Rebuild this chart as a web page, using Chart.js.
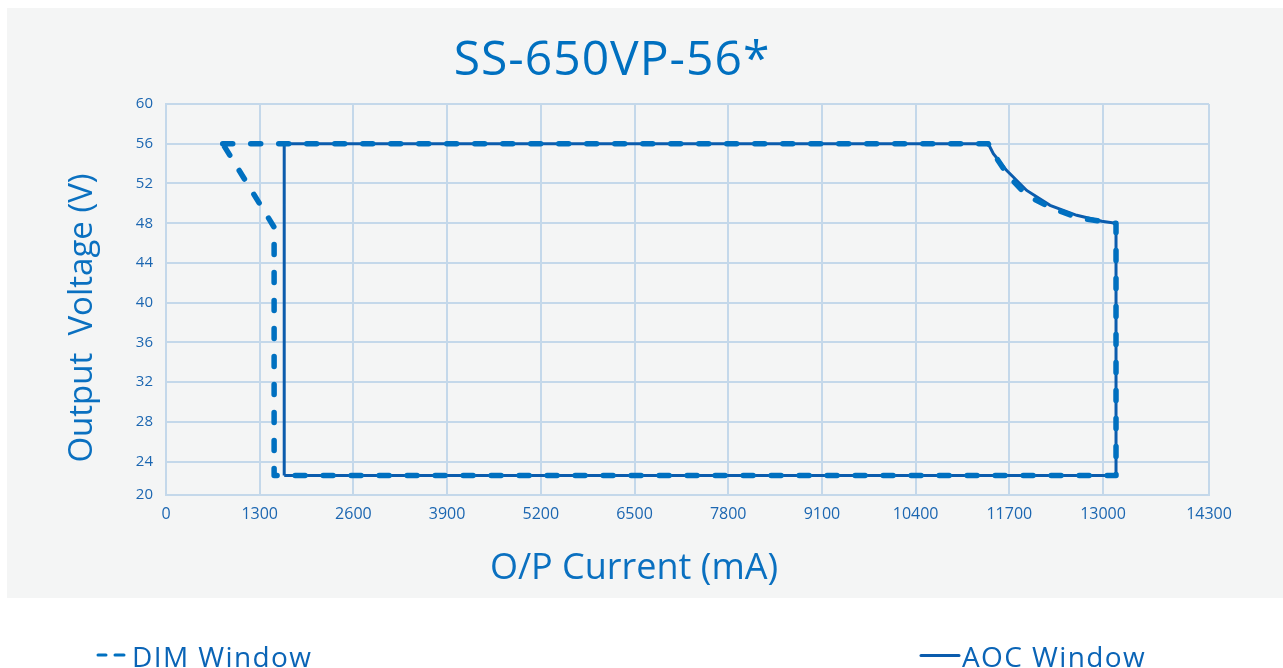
<!DOCTYPE html>
<html>
<head>
<meta charset="utf-8">
<script src="https://cdn.jsdelivr.net/npm/chart.js@4/dist/chart.umd.min.js"></script>
<style>
  html, body { margin: 0; padding: 0; background: #ffffff; }
  #wrap { position: absolute; left: 0; top: 0; width: 1283px; height: 668px; }
</style>
</head>
<body>
<div id="wrap"><canvas id="c" width="1283" height="668"></canvas></div>
<script>
// ---- data ----
const chartTitle = 'SS-650VP-56*';
const xAxisTitle = 'O/P Current (mA)';
const yAxisTitle = 'Output  Voltage (V)';

const xTickLabels = ['0','1300','2600','3900','5200','6500','7800','9100','10400','11700','13000','14300'];
const xTickValues = [0,1300,2600,3900,5200,6500,7800,9100,10400,11700,13000,14470];
const yTickLabels = ['20','24','28','32','36','40','44','48','52','56','60'];
const yTickValues = [20.65,24,28,32,36,40,44,48,52,56,60];

const dimCurrent = [787, 11408, 11474, 11682, 11945, 12292, 12681, 12972, 13180, 13180, 1500, 1500, 787];
const dimVoltage = [56, 56, 55.1, 52.8, 50.8, 49.5, 48.5, 48.2, 48.0, 22.6, 22.6, 47.6, 56];

const aocCurrent = [1640, 1640, 11408, 11478, 11664, 11941, 12265, 12635, 12982, 13180, 13180, 1640];
const aocVoltage = [22.6, 56, 56, 55.0, 53.3, 51.3, 49.8, 48.8, 48.2, 48.0, 22.6, 22.6];

const dimLabel = 'DIM Window';
const aocLabel = 'AOC Window';

// ---- styles ----
const dimColor = '#0070c0';
const aocColor = '#0b5cad';
const gridColor = '#c4d8ea';
const tickColor = '#1b66b1';
const FONT = '"Open Sans", "Noto Sans", sans-serif';

const toPts = (xs, ys) => xs.map((x, i) => ({x: x, y: ys[i]}));

const decor = {
  id: 'decor',
  beforeDraw(chart) {
    const ctx = chart.ctx;
    ctx.save();
    ctx.fillStyle = '#ffffff';
    ctx.fillRect(0, 0, chart.width, chart.height);
    ctx.fillStyle = '#f4f5f5';
    ctx.fillRect(7, 8, chart.width - 7, 590);
    ctx.restore();
  },
  afterDraw(chart) {
    const ctx = chart.ctx;
    ctx.save();
    // title
    ctx.fillStyle = '#0070c0';
    ctx.font = '48px ' + FONT;
    ctx.textAlign = 'center';
    ctx.textBaseline = 'alphabetic';
    try { ctx.letterSpacing = '1px'; } catch (e) {}
    ctx.fillText(chartTitle, 612, 75);
    try { ctx.letterSpacing = '0px'; } catch (e) {}
    // x axis title
    ctx.font = '36px ' + FONT;
    ctx.fillStyle = '#0a70c0';
    ctx.fillText(xAxisTitle, 634, 579);
    // y axis title
    ctx.save();
    ctx.font = '33px ' + FONT;
    ctx.translate(92, 318);
    ctx.rotate(-Math.PI / 2);
    ctx.fillText(yAxisTitle, 0, 0);
    ctx.restore();
    // legend
    ctx.lineCap = 'round';
    ctx.strokeStyle = dimColor;
    ctx.lineWidth = 3;
    ctx.beginPath();
    ctx.moveTo(98, 655); ctx.lineTo(106, 655);
    ctx.moveTo(115, 655); ctx.lineTo(124, 655);
    ctx.stroke();
    ctx.strokeStyle = aocColor;
    ctx.beginPath();
    ctx.moveTo(921, 655.5); ctx.lineTo(959, 655.5);
    ctx.stroke();
    ctx.textAlign = 'left';
    ctx.font = '28px ' + FONT;
    ctx.fillStyle = '#0a64b6';
    try { ctx.letterSpacing = '1.4px'; } catch (e) {}
    ctx.fillText(dimLabel, 132, 667);
    ctx.fillText(aocLabel, 962, 667);
    ctx.restore();
  }
};

new Chart(document.getElementById('c'), {
  type: 'scatter',
  data: {
    datasets: [
      {
        label: dimLabel,
        data: toPts(dimCurrent, dimVoltage),
        showLine: true,
        borderColor: dimColor,
        borderWidth: 5.5,
        borderDash: [10, 18],
        borderCapStyle: 'round',
        borderJoinStyle: 'round',
        pointRadius: 0,
        tension: 0,
        fill: false,
        order: 0
      },
      {
        label: aocLabel,
        data: toPts(aocCurrent, aocVoltage),
        showLine: true,
        borderColor: aocColor,
        borderWidth: 3,
        borderJoinStyle: 'miter',
        pointRadius: 0,
        tension: 0,
        fill: false,
        order: 1
      }
    ]
  },
  options: {
    responsive: false,
    animation: false,
    events: [],
    layout: { padding: { left: 116, top: 104, right: 74, bottom: 133 } },
    plugins: { legend: { display: false }, title: { display: false }, tooltip: { enabled: false } },
    scales: {
      x: {
        type: 'linear',
        min: 0,
        max: xTickValues[xTickValues.length - 1],
        afterBuildTicks(scale) { scale.ticks = xTickValues.map(v => ({value: v})); },
        afterFit(scale) { scale.height = 40; },
        grid: { color: gridColor, lineWidth: 2, drawTicks: false },
        border: { color: gridColor, width: 2 },
        ticks: {
          padding: 10,
          maxRotation: 0,
          autoSkip: false,
          color: tickColor,
          font: { family: FONT, size: 16 },
          callback: (v, i) => xTickLabels[i]
        }
      },
      y: {
        type: 'linear',
        min: yTickValues[0],
        max: yTickValues[yTickValues.length - 1],
        afterBuildTicks(scale) { scale.ticks = yTickValues.map(v => ({value: v})); },
        afterFit(scale) { scale.width = 50; },
        grid: { color: gridColor, lineWidth: 2, drawTicks: false },
        border: { color: gridColor, width: 2 },
        ticks: {
          padding: 13,
          autoSkip: false,
          color: tickColor,
          font: { family: FONT, size: 15 },
          callback: (v, i) => yTickLabels[i]
        }
      }
    }
  },
  plugins: [decor]
});
</script>
</body>
</html>
